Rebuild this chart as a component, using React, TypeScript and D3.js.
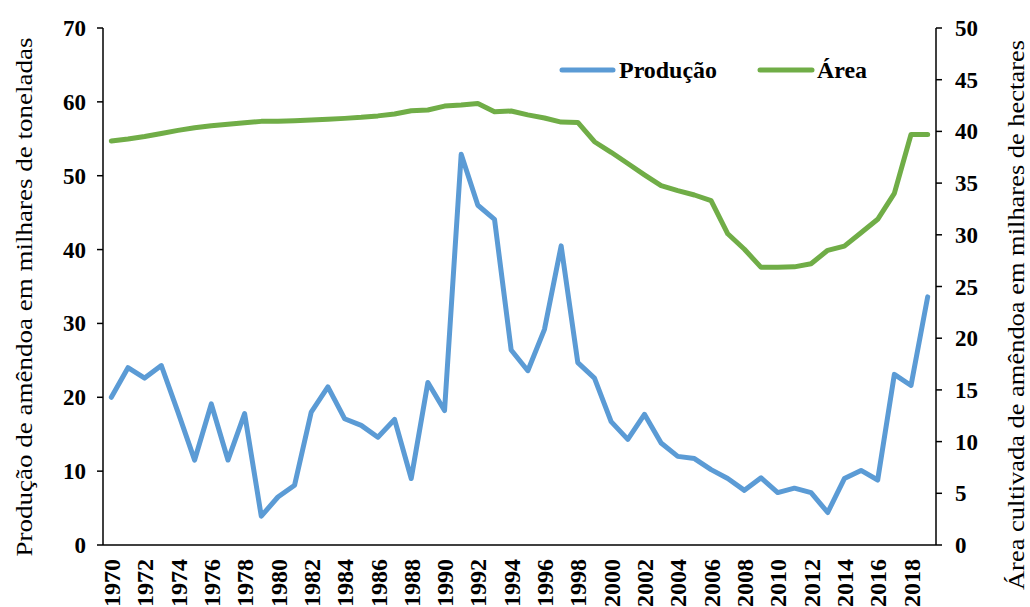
import React from "react";
import * as d3 from "d3";

const years = d3.range(1970, 2020);

// produção (milhares de toneladas), eixo esquerdo
const producao = [
  20.0, 24.0, 22.6, 24.3, 18.0, 11.5, 19.1, 11.5, 17.8, 3.9,
  6.5, 8.1, 18.0, 21.4, 17.1, 16.2, 14.6, 17.0, 9.0, 22.0,
  18.2, 52.9, 46.0, 44.1, 26.4, 23.6, 29.2, 40.5, 24.7, 22.6,
  16.7, 14.3, 17.7, 13.8, 12.0, 11.7, 10.2, 9.0, 7.4, 9.1,
  7.1, 7.7, 7.1, 4.4, 9.0, 10.1, 8.8, 23.1, 21.6, 33.6,
];

// área (milhares de hectares), eixo direito
const area = [
  39.07, 39.26, 39.5, 39.8, 40.1, 40.36, 40.55, 40.7, 40.84, 40.97,
  40.97, 41.04, 41.1, 41.17, 41.26, 41.36, 41.5, 41.68, 42.0, 42.07,
  42.45, 42.55, 42.7, 41.9, 41.97, 41.6, 41.3, 40.9, 40.87, 39.0,
  37.98, 36.9, 35.8, 34.75, 34.27, 33.85, 33.3, 30.1, 28.6, 26.85,
  26.85, 26.9, 27.2, 28.5, 28.9, 30.2, 31.5, 34.0, 39.7, 39.7,
];

const leftTicks = [0, 10, 20, 30, 40, 50, 60, 70];
const rightTicks = [0, 5, 10, 15, 20, 25, 30, 35, 40, 45, 50];

const BLUE = "#5B9BD5";
const GREEN = "#70AD47";
const serif = {
  fontFamily:
    '"Times New Roman", Times, "Liberation Serif", Tinos, "DejaVu Serif", "Noto Serif", serif',
};

const App = () => {
  const left = 103, right = 936, top = 28, bottom = 545;

  const x = d3.scaleBand<number>().domain(years).range([left, right]);
  const cx = (yr: number) => (x(yr) as number) + x.bandwidth() / 2;
  const yL = d3.scaleLinear().domain([0, 70]).range([bottom, top]);
  const yR = d3.scaleLinear().domain([0, 50]).range([bottom, top]);

  const lineL = d3.line<number>().x((d, i) => cx(years[i])).y(d => yL(d));
  const lineR = d3.line<number>().x((d, i) => cx(years[i])).y(d => yR(d));

  return (
    <svg
      width={1030}
      height={607}
      style={{ position: "absolute", left: 0, top: 0, background: "#fff" }}
    >
      {/* eixo esquerdo */}
      <line x1={left} x2={left} y1={top} y2={bottom} stroke="#000" strokeWidth={1.5} />
      {leftTicks.map(t => (
        <g key={"l" + t}>
          <line x1={left - 6} x2={left} y1={yL(t)} y2={yL(t)} stroke="#000" strokeWidth={1.5} />
          <text style={serif} x={86} y={yL(t)} dy="0.35em" textAnchor="end" fontSize={23} fontWeight="bold">
            {t}
          </text>
        </g>
      ))}
      {/* eixo direito */}
      <line x1={right} x2={right} y1={top} y2={bottom} stroke="#000" strokeWidth={1.5} />
      {rightTicks.map(t => (
        <g key={"r" + t}>
          <line x1={right} x2={right + 6} y1={yR(t)} y2={yR(t)} stroke="#000" strokeWidth={1.5} />
          <text style={serif} x={955} y={yR(t)} dy="0.35em" textAnchor="start" fontSize={23} fontWeight="bold">
            {t}
          </text>
        </g>
      ))}
      {/* eixo x */}
      <line x1={left} x2={right} y1={bottom} y2={bottom} stroke="#000" strokeWidth={1.5} />
      {years.filter(yr => yr % 2 === 0).map(yr => (
        <text
          key={yr}
          style={serif}
          transform={`translate(${cx(yr)},${bottom + 14}) rotate(-90)`}
          dy="0.36em"
          textAnchor="end"
          fontSize={24}
          fontWeight="bold"
        >
          {yr}
        </text>
      ))}

      {/* títulos dos eixos */}
      <text
        style={serif}
        transform={`translate(24,297) rotate(-90)`}
        textAnchor="middle"
        dy="0.35em"
        fontSize={23}
        textLength={519}
        lengthAdjust="spacingAndGlyphs"
      >
        Produção de amêndoa em milhares de toneladas
      </text>
      <text
        style={serif}
        transform={`translate(1016,315) rotate(-90)`}
        textAnchor="middle"
        dy="0.35em"
        fontSize={23}
        textLength={550}
        lengthAdjust="spacingAndGlyphs"
      >
        Área cultivada de amêndoa em milhares de hectares
      </text>

      {/* séries */}
      <path d={lineR(area) || ""} fill="none" stroke={GREEN} strokeWidth={5} strokeLinejoin="round" strokeLinecap="round" />
      <path d={lineL(producao) || ""} fill="none" stroke={BLUE} strokeWidth={5} strokeLinejoin="round" strokeLinecap="round" />

      {/* legenda */}
      <line x1={562} x2={613} y1={70} y2={70} stroke={BLUE} strokeWidth={5} strokeLinecap="round" />
      <text style={serif} x={619} y={70} dy="0.35em" fontSize={23} fontWeight="bold" textLength={98} lengthAdjust="spacingAndGlyphs">
        Produção
      </text>
      <line x1={760} x2={812} y1={70} y2={70} stroke={GREEN} strokeWidth={5} strokeLinecap="round" />
      <text style={serif} x={817} y={70} dy="0.35em" fontSize={23} fontWeight="bold" textLength={50} lengthAdjust="spacingAndGlyphs">
        Área
      </text>
    </svg>
  );
};

export default App;
